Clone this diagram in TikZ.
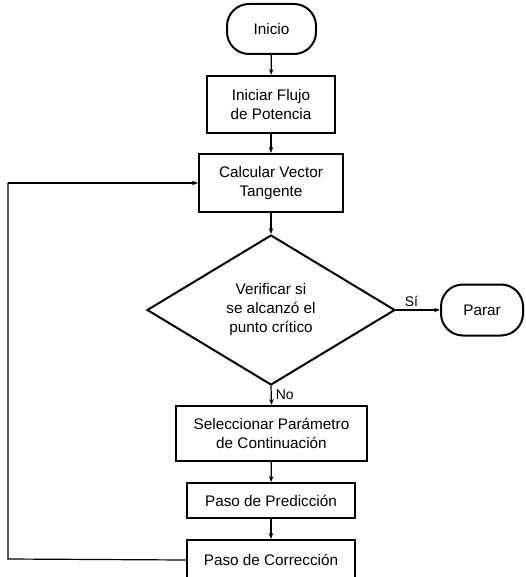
\documentclass[tikz,border=0pt]{standalone}
\usepackage{fontspec}
\setmainfont{Liberation Sans}
\usetikzlibrary{shapes.geometric,arrows.meta}
\begin{document}
\begin{tikzpicture}[x=1pt,y=-1pt,
  every node/.style={font=\fontsize{15.3}{19}\selectfont, align=center, inner sep=0pt},
  procbox/.style={draw, line width=2pt, rectangle},
  termbox/.style={draw, line width=2pt, rectangle, rounded corners=22pt},
  decbox/.style={draw, line width=2pt, diamond, aspect=1.65},
  conn/.style={line width=1.2pt, -{Stealth[length=6pt,width=4.5pt]}},
  lbl/.style={font=\fontsize{14}{16}\selectfont}]
\useasboundingbox (0,0) rectangle (526,577);
\node[termbox, minimum width=89pt, minimum height=50pt] (inicio) at (271.5,29) {Inicio};
\node[procbox, minimum width=128pt, minimum height=57pt] (iniciar) at (271,104.5) {Iniciar Flujo\\de Potencia};
\node[procbox, minimum width=144pt, minimum height=58pt] (calc) at (271,183) {Calcular Vector\\Tangente};
\node[decbox, minimum width=248pt, minimum height=150pt] (dec) at (271,310) {Verificar si\\se alcanzó el\\punto crítico};
\node[termbox, minimum width=82pt, minimum height=51pt] (parar) at (482,310) {Parar};
\node[procbox, minimum width=191pt, minimum height=55pt] (sel) at (271.5,433.5) {Seleccionar Parámetro\\de Continuación};
\node[procbox, minimum width=168pt, minimum height=35pt] (pred) at (271,500.5) {Paso de Predicción};
\node[procbox, minimum width=168pt, minimum height=40pt] (corr) at (271,560) {Paso de Corrección};
\coordinate (lb) at (8,559);
\coordinate (lt) at (8,183);
\draw[conn] (inicio) -- (iniciar);
\draw[conn] (iniciar) -- (calc);
\draw[conn] (calc) -- (dec);
\draw[conn] (dec.east) -- node[lbl, above=3pt, pos=0.35] {Sí} (parar.west);
\draw[conn] (dec.south) -- node[lbl, right=4pt, pos=0.45] {No} (sel.north);
\draw[conn] (sel) -- (pred);
\draw[conn] (pred) -- (corr);
\draw[line width=1.2pt] (corr.west) -- (lb) -- (lt);
\draw[conn] (lt) -- (calc.west);
\end{tikzpicture}
\end{document}
